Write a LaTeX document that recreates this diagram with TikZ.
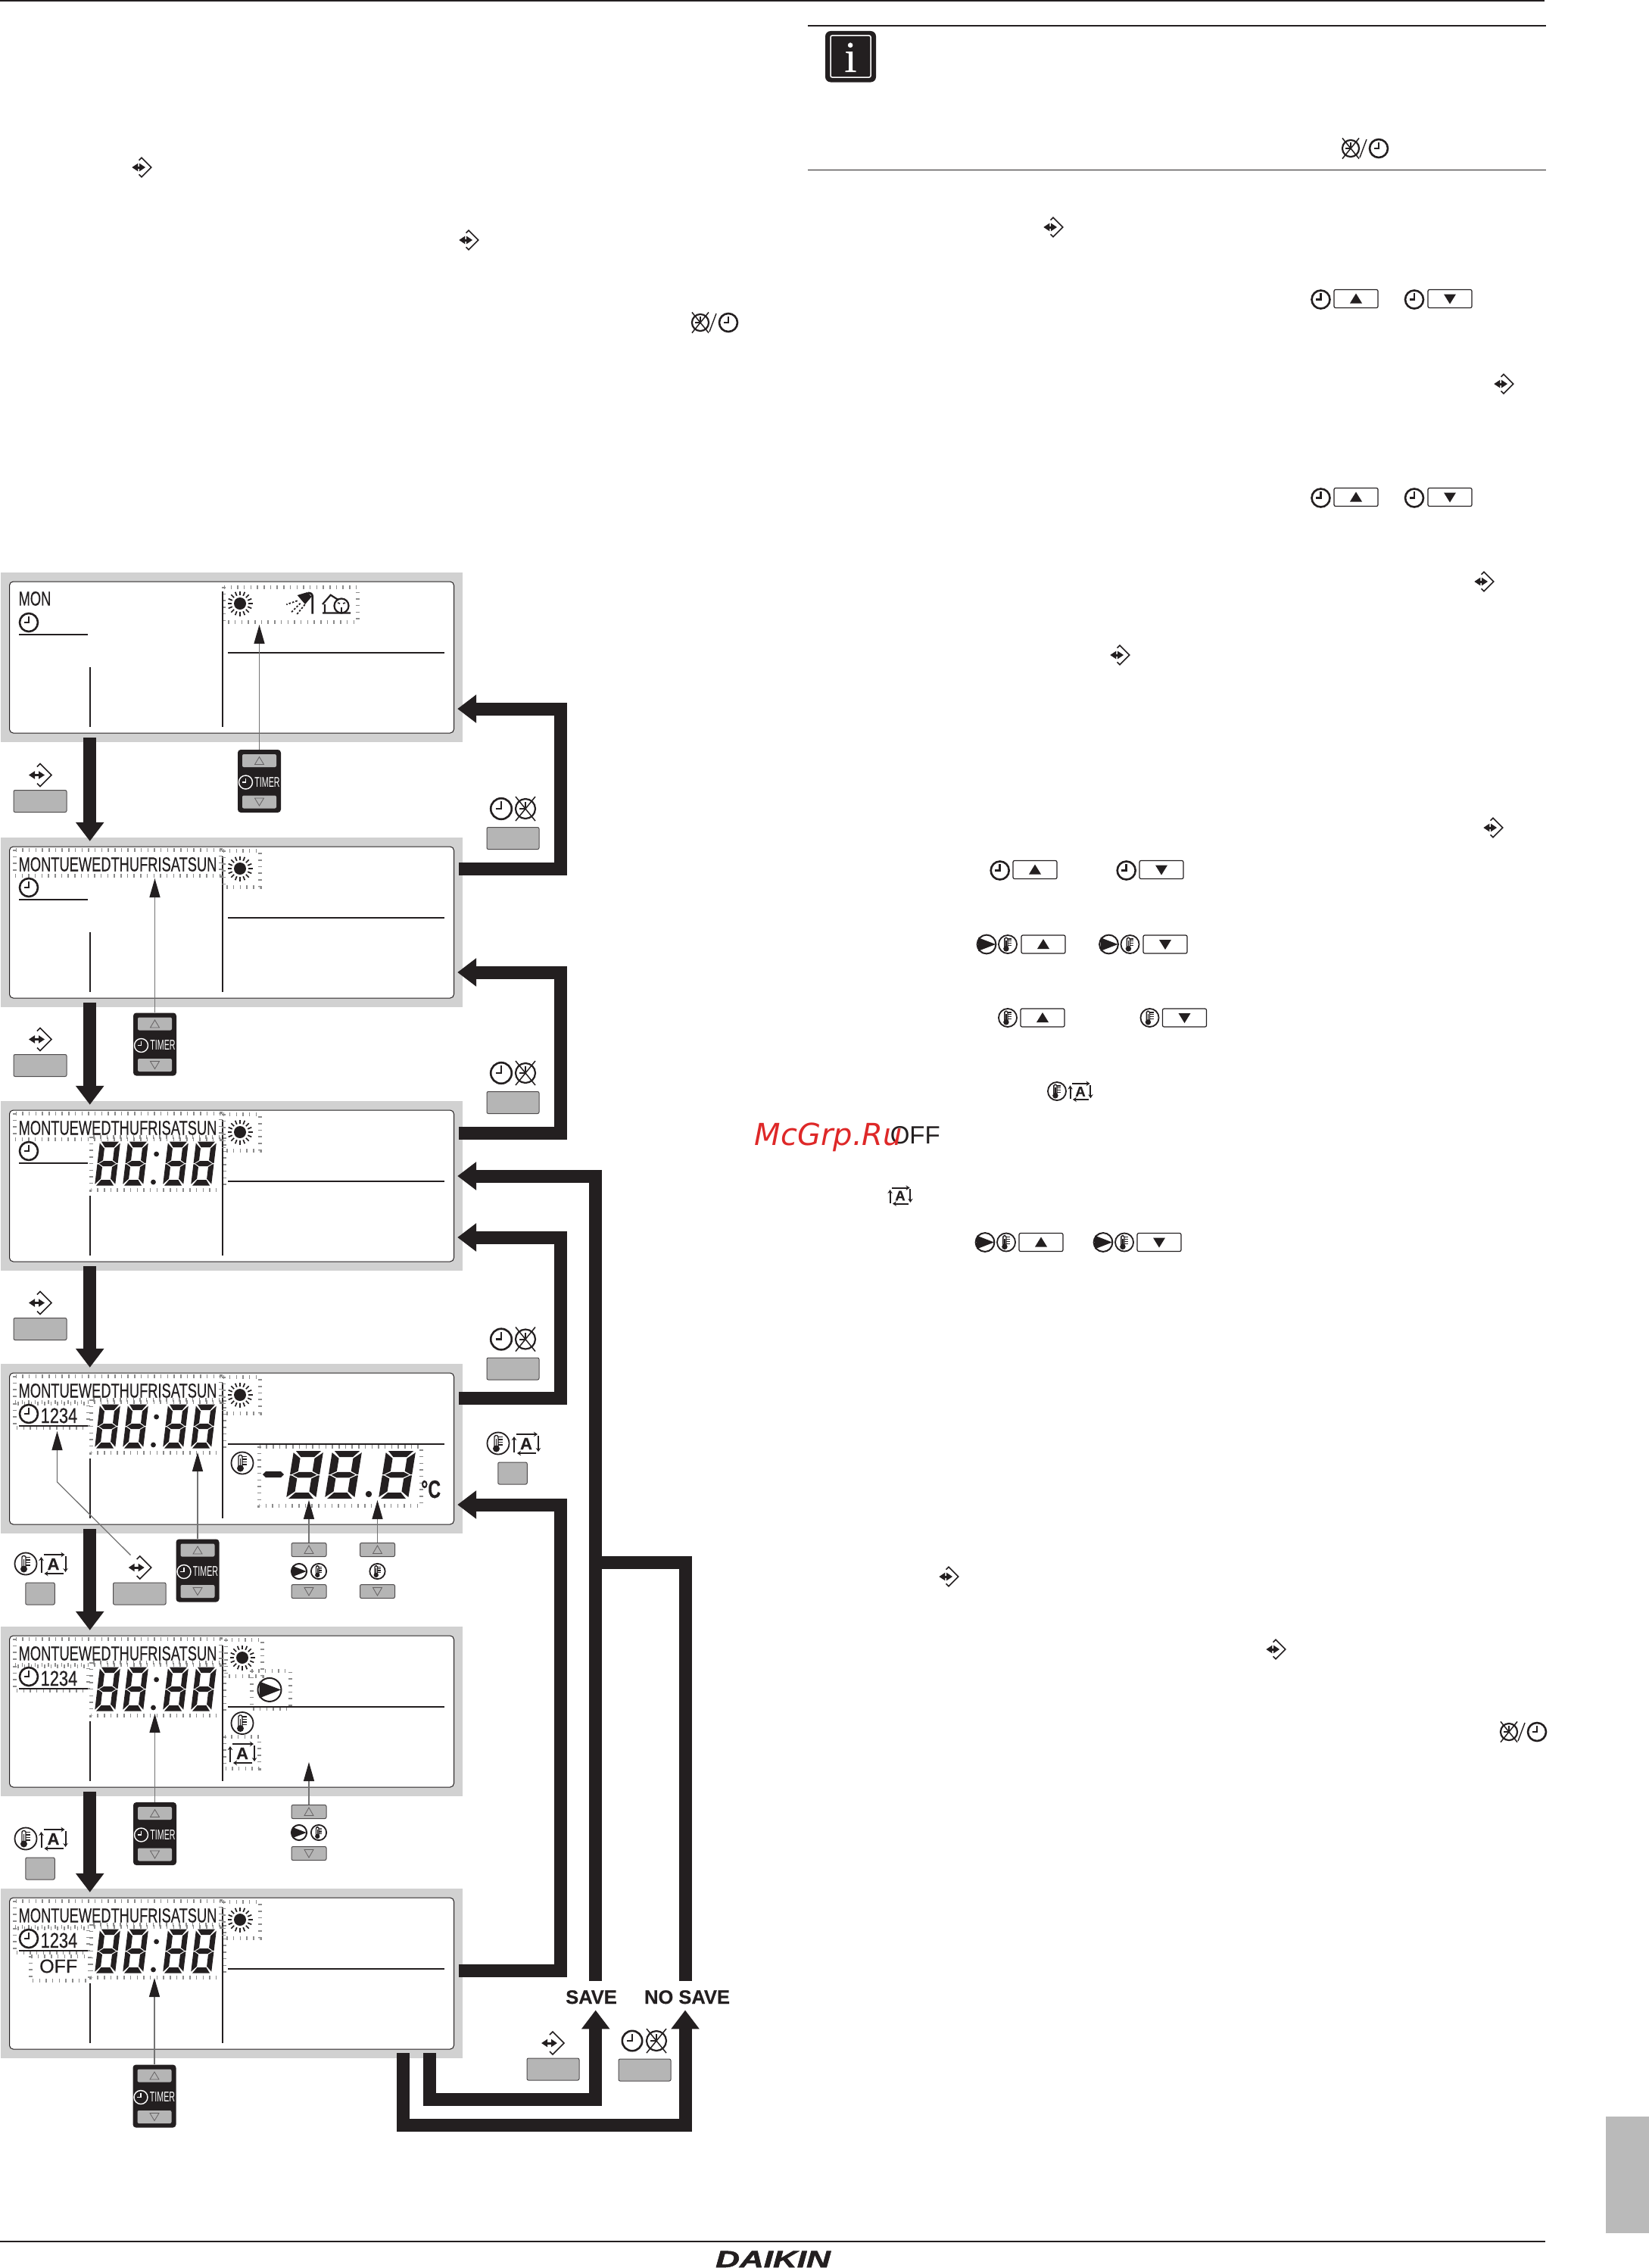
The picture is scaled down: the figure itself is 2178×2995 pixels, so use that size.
\documentclass[tikz,border=0pt]{standalone}
\usepackage{fontspec}
\setmainfont{Liberation Sans}
\newfontfamily\markfont{DejaVu Sans}
\newfontfamily\infofont[FakeBold=.6]{Liberation Serif}
\newfontfamily\lcdfont[FakeBold=.5]{Liberation Sans}
\newfontfamily\logofont[BoldItalicFeatures={FakeBold=1.6}]{Liberation Sans}
\newfontfamily\wordfont[BoldFeatures={FakeBold=.4}]{Liberation Sans}
\usetikzlibrary{arrows.meta}
\definecolor{ink}{HTML}{231F20}
\definecolor{panelgray}{HTML}{D1D1D1}
\definecolor{keygray}{HTML}{B5B5B5}
\definecolor{tabgray}{HTML}{BABABA}
\newcommand{\pxfont}[1]{\fontsize{#1}{#1}\selectfont}

\begin{document}
\begin{tikzpicture}[x=1pt, y=-1pt, color=ink,
  frame/.style={shape=rectangle, fill=panelgray, inner sep=0pt, minimum width=610pt, minimum height=224pt},
  lcd/.style={shape=rectangle, fill=white, draw=ink, line width=1pt, rounded corners=5pt, inner sep=0pt, minimum width=587pt, minimum height=200pt},
  keybtn/.style={shape=rectangle, fill=keygray, draw=ink!80, line width=1pt, rounded corners=2pt, inner sep=0pt},
  timerbox/.style={shape=rectangle, fill=ink, rounded corners=4pt, inner sep=0pt, minimum width=57pt, minimum height=83pt},
  smallkey/.style={keybtn, minimum width=46pt, minimum height=18pt},
  keyglyph/.style={draw=ink!70, line width=.8pt},
  heavy/.style={draw=ink, line width=17pt, -{Triangle[width=36pt,length=25pt,color=ink]}},
  rail/.style={draw=ink, line width=17pt},
  pointer/.style={draw=black!55, line width=1.3pt, -{Triangle[width=14pt,length=25pt,color=ink,fill=ink]}},
  flash/.style={draw=black!45, line width=5pt, dash pattern=on 1.5pt off 7.2pt},
  lcdline/.style={draw=ink, line width=1.8pt},
  daytext/.style={font=\lcdfont\pxfont{26.5}, xscale=.69, inner sep=0pt, anchor=base west},
  saveword/.style={font=\wordfont\bfseries\pxfont{25.5}, inner sep=0pt, anchor=base},
  clock/.pic={
    \draw[line width=2.6pt] (0,0) circle[radius=12];
    \draw[line width=2.6pt] (-6.5,0) -- (0,0) -- (0,-8.5);
  },
  xclock/.pic={
    \draw[line width=2.2pt] (0,0) circle[radius=13];
    \draw[line width=1.5pt] (-13,-16) -- (13,16) (13,-16) -- (-13,16);
    \draw[line width=2pt] (-8,0) -- (0,0) -- (0,-9);
  },
  enter/.pic={
    \draw[line width=1.6pt] (-4,-11) -- (0,-15) -- (15,0) -- (0,15) -- (-4,11);
    \draw[line width=3pt, {Triangle[width=10pt,length=8pt]}-{Triangle[width=10pt,length=8pt]}] (-15,0) -- (6,0);
  },
  therm/.pic={
    \draw[line width=1.8pt] (0,0) circle[radius=14.5];
    \draw[line width=1.4pt, rounded corners=1.5pt] (-5,-10.5) rectangle (0,5);
    \fill (-2.5,7) circle[radius=4.5];
    \fill (-3.4,-6) rectangle (-1.6,5);
    \foreach \t in {-8.5,-5,-1.5,2} \draw[line width=1.1pt] (0,\t) -- (6,\t);
  },
  aicon/.pic={
    \draw[line width=2pt, -{Stealth[length=5pt,width=6.5pt]}] (-13,-12) -- (15,-12);
    \draw[line width=2pt, -{Stealth[length=5pt,width=6.5pt]}] (16,-10) -- (16,11);
    \draw[line width=2pt, -{Stealth[length=5pt,width=6.5pt]}] (13,13) -- (-12,13);
    \draw[line width=2pt, -{Stealth[length=5pt,width=6.5pt]}] (-16,12) -- (-16,-9);
    \node (-glyph) [font=\wordfont\bfseries\pxfont{22}, inner sep=0pt, transform shape] at (0,.5) {A};
  },
  pump/.pic={
    \draw[line width=2pt] (0,0) circle[radius=15.5];
    \fill (-13.5,-11) -- (15,0) -- (-13.5,11) -- cycle;
  },
  sun/.pic={
    \fill (0,0) circle[radius=8];
    \foreach \a in {0,22.5,...,337.5} \draw[line width=1.7pt] (\a:11) -- (\a:16.5);
  },
  shower/.pic={
    \draw[line width=2.8pt] (15.7,14.7) -- (15.7,-8) .. controls (15.7,-12) and (13,-13) .. (9.7,-13);
    \fill (-4.3,-10) -- (9,-14) -- (14.5,-8) -- (6,2) -- cycle;
    \draw[line width=1.8pt, dash pattern=on 2.6pt off 2pt] (-4.3,-2.7) -- (-18.7,2.3) (-.3,.7) -- (-12,12.3) (5.7,2.3) -- (-5.3,15.7);
  },
  house/.pic={
    \draw[line width=2.2pt] (-19,1) -- (-8.3,-11.3) -- (3,-4) (-16,1) -- (-16,12) (-19,12.5) -- (18,12.5);
    \draw[line width=2.2pt, fill=white] (6,3) circle[radius=9.5];
    \draw[line width=1.6pt] (6,5) -- (6,12) (1,-1) -- (4,0) (8,0) -- (11,-1);
  },
  eight/.pic={
    \begin{scope}[xslant=.12]
      \fill (2,0) -- (25,0) -- (19.5,7.5) -- (7.5,7.5) -- cycle
            (2,58) -- (25,58) -- (19.5,50.5) -- (7.5,50.5) -- cycle
            (2.5,29) -- (8,25.5) -- (19,25.5) -- (24.5,29) -- (19,32.5) -- (8,32.5) -- cycle
            (0,2) -- (7,9) -- (7,24.5) -- (1.5,28.3) -- (0,28.3) -- cycle
            (0,29.7) -- (1.5,29.7) -- (7,33.5) -- (7,49) -- (0,56) -- cycle
            (27,2) -- (20,9) -- (20,24.5) -- (25.5,28.3) -- (27,28.3) -- cycle
            (27,29.7) -- (25.5,29.7) -- (20,33.5) -- (20,49) -- (27,56) -- cycle;
    \end{scope}
  },
  timedigits/.pic={
    \draw[flash] (120,47) rectangle (296,117);
    \foreach \dx in {132,169,222,259} \pic at (\dx,53.6) {eight};
    \fill (206.6,70) circle[radius=3.4] (202.5,107) circle[radius=3.4];
  },
  daysrow/.pic={
    \draw[flash] (19,16) rectangle (291,50);
    \node (-days) [daytext] at (24.5,44.5) {MONTUEWEDTHUFRISATSUN};
    \pic at (38,66) {clock};
  },
  sunspot/.pic={
    \draw[flash] (295,17) rectangle (343,65);
    \pic at (317,41) {sun};
  },
  countrow/.pic={
    \draw[flash] (19,52) rectangle (116,84);
    \node (-count) [font=\lcdfont\pxfont{28}, xscale=.78, inner sep=0pt, anchor=base west] at (53.5,78) {1234};
  },
  lcdlines/.pic={
    \draw[lcdline] (25,82) -- (116,82) (301,105.6) -- (587,105.6);
    \draw[lcdline] (119,125) -- (119,204) (294,24.5) -- (294,204);
  },
  timer/.pic={
    \node (-box) [timerbox] at (0,0) {};
    \node (-up) [keybtn, draw=none, minimum width=45pt, minimum height=17pt] at (0,-27) {};
    \node (-down) [keybtn, draw=none, minimum width=45pt, minimum height=17pt] at (0,27.5) {};
    \draw[keyglyph] (0,-32) -- (6,-22) -- (-6,-22) -- cycle (0,32.5) -- (6,22.5) -- (-6,22.5) -- cycle;
    \draw[white, line width=1.4pt] (-18,1.5) circle[radius=9];
    \draw[white, line width=1.5pt] (-23,1.5) -- (-18,1.5) -- (-18,-4);
    \node (-word) [text=white, font=\pxfont{18.7}, xscale=.57, inner sep=0pt] at (10.5,1.5) {TIMER};
  },
  updown/.pic={
    \node (-up) [smallkey] at (0,-27.5) {};
    \node (-down) [smallkey] at (0,27.5) {};
    \draw[keyglyph] (0,-33) -- (6,-22.5) -- (-6,-22.5) -- cycle (0,33) -- (6,22.5) -- (-6,22.5) -- cycle;
  },
  upkey/.pic={
    \draw[line width=1.2pt, rounded corners=2pt] (-29,-12) rectangle (29,12);
    \fill (0,-7) -- (8,6) -- (-8,6) -- cycle;
  },
  downkey/.pic={
    \draw[line width=1.2pt, rounded corners=2pt] (-29,-12) rectangle (29,12);
    \fill (0,7) -- (8,-6) -- (-8,-6) -- cycle;
  }]
    \useasboundingbox (0,0) rectangle (2178,2995);

    % page rules and tab
    \draw[line width=3pt] (0,1) -- (2040,1);
    \draw[line width=1.2pt] (1067,34) -- (2042,34);
    \draw[line width=1pt] (1067,224.5) -- (2042,224.5);
    \draw[line width=1.5pt] (0,2960) -- (2041,2960);
    \fill[tabgray] (2121,2795) rectangle (2178,2949);
    \node (brand) [font=\logofont\bfseries\itshape\pxfont{31}, xscale=1.42, inner sep=0pt, anchor=base] at (1021,2994) {DAIKIN};

    % info sign
    \fill[rounded corners=7pt] (1090,41) rectangle (1157,108.5);
    \draw[white, line width=1.5pt, rounded corners=2pt] (1097,47) rectangle (1150,102);
    \node (infoMark) [text=white, font=\infofont\pxfont{58}, inner sep=0pt, anchor=base] at (1123.5,95) {i};

    % symbols of the text columns
    \foreach \ex/\ey in {187/221,619/317,1391/300,1986/507,1960/768,1479/865,1972/1093,1253/2082,1685/2178}
      \pic[scale=.85] at (\ex,\ey) {enter};
    \foreach \ex/\ey in {925/426,1784/196,1993/2287} {
      \pic[scale=.85] at (\ex,\ey) {xclock};
      \draw[line width=1.4pt] (\ex+12,\ey+12) -- (\ex+21,\ey-12);
      \pic at (\ex+37,\ey) {clock};
    }
    \foreach \kx/\ky/\cx in {1791/394.5/1744.5,1791/656.5/1744.5,1367/1148.5/1320.7} {
      \pic at (\kx,\ky) {upkey};
      \pic at (\cx,\ky+1) {clock};
    }
    \foreach \kx/\ky/\cx in {1915/394.5/1868,1915/656.5/1868,1534/1148.5/1487.7} {
      \pic at (\kx,\ky) {downkey};
      \pic at (\cx,\ky+1) {clock};
    }
    \foreach \kx/\ky/\px in {1378/1247/1303,1375/1640.5/1301} {
      \pic at (\kx,\ky) {upkey};
      \pic[scale=.8] at (\px,\ky) {pump};
      \pic[scale=.83] at (\px+28,\ky) {therm};
    }
    \foreach \kx/\ky/\px in {1539/1247/1464.5,1531/1640.5/1457} {
      \pic at (\kx,\ky) {downkey};
      \pic[scale=.8] at (\px,\ky) {pump};
      \pic[scale=.83] at (\px+28,\ky) {therm};
    }
    \pic at (1377,1344) {upkey};
    \pic[scale=.83] at (1331,1344) {therm};
    \pic at (1564.5,1344) {downkey};
    \pic[scale=.83] at (1518.5,1344) {therm};
    \pic[scale=.83] at (1396,1441) {therm};
    \pic[scale=.84] at (1427,1441) {aicon};
    \pic[scale=.84] at (1189,1578.6) {aicon};
    \node (offWord) [font=\pxfont{33}, inner sep=0pt, anchor=base west] at (1175.6,1510.6) {OFF};
    \node (stamp) [text={rgb,255:red,222;green,40;blue,40}, font=\markfont\itshape\pxfont{40}, inner sep=0pt, anchor=base west] at (996.6,1512) {McGrp.Ru};

    % panels
    \foreach \pname/\ptop in {A/756,B/1106,C/1454,D/1801,E/2148,F/2494} {
      \node (frame\pname) [frame] at (306,\ptop+112) {};
      \node (lcd\pname) [lcd] at (frame\pname.center) {};
    }

    \begin{scope}[shift={(0,756)}]
      \draw[flash] (295,19) rectangle (472,65);
      \pic at (0,0) {lcdlines};
      \node (monA) [daytext] at (24.5,43.6) {MON};
      \pic at (38,66) {clock};
      \pic at (317,41) {sun};
      \pic at (397,40) {shower};
      \pic at (445,41) {house};
    \end{scope}
    \begin{scope}[shift={(0,1106)}]
      \pic at (0,0) {lcdlines};
      \pic at (0,0) {daysrow};
      \pic at (0,0) {sunspot};
    \end{scope}
    \begin{scope}[shift={(0,1454)}]
      \pic at (0,0) {timedigits};
      \pic at (0,0) {lcdlines};
      \pic at (0,0) {daysrow};
      \pic at (0,0) {sunspot};
    \end{scope}
    \begin{scope}[shift={(0,1801)}]
      \pic at (0,0) {timedigits};
      \pic at (0,0) {countrow};
      \pic at (0,0) {lcdlines};
      \pic at (0,0) {daysrow};
      \pic at (0,0) {sunspot};
      \pic at (320,131) {therm};
      \draw[flash] (342,109) rectangle (556,187.5);
      \fill (347,146) -- (351,142) -- (371,142) -- (375,146) -- (371,150) -- (351,150) -- cycle;
      \foreach \dx in {388,439,510} \pic[xscale=1.45, yscale=1.09] at (\dx,115) {eight};
      \fill (487,172) circle[radius=4.2];
      \node (unitD) [font=\wordfont\bfseries\pxfont{33}, xscale=.7, inner sep=0pt, anchor=base west] at (556,177) {°C};
    \end{scope}
    \begin{scope}[shift={(0,2148)}]
      \pic at (0,0) {timedigits};
      \pic at (0,0) {countrow};
      \draw[flash] (332,58) rectangle (383,108);
      \draw[flash] (296,145) rectangle (342,187);
      \pic at (0,0) {lcdlines};
      \pic at (0,0) {daysrow};
      \pic at (3,0) {sunspot};
      \pic at (356,83.4) {pump};
      \pic at (320,127.5) {therm};
      \pic at (320,167) {aicon};
    \end{scope}
    \begin{scope}[shift={(0,2494)}]
      \pic at (0,0) {timedigits};
      \pic at (0,0) {countrow};
      \draw[flash] (40,89) rectangle (118,121);
      \pic at (0,0) {lcdlines};
      \pic at (0,0) {daysrow};
      \pic at (0,0) {sunspot};
      \node (offF) [font=\lcdfont\pxfont{25}, inner sep=0pt, anchor=base west] at (52,111) {OFF};
    \end{scope}

    % step arrows between the panels
    \foreach \pfrom/\pto in {A/B,B/C,C/D,D/E,E/F}
      \draw[heavy] ([shift={(-187.3pt,6pt)}]frame\pfrom.south) -- ([shift={(-187.3pt,-5pt)}]frame\pto.north);

    % arrows back to the previous panel
    \foreach \pfrom/\pto/\pout/\pback in {B/A/71/-68,C/B/70/-66,D/C/66.5/-68,F/D/4/-74} {
      \coordinate (rail\pto) at ([shift={(129.5pt,\pback pt)}]frame\pto.east);
      \draw[heavy] ([shift={(-5pt,\pout pt)}]frame\pfrom.east) -| (rail\pto) -- ([shift={(-7pt,\pback pt)}]frame\pto.east);
    }

    % save and no save
    \node (lblSave) [saveword] at (781,2646) {SAVE};
    \node (lblNoSave) [saveword] at (907.5,2646) {NO SAVE};
    \coordinate (joinSave) at (786.7,2063);
    \coordinate (turnSave) at (786.7,2772);
    \coordinate (turnNoSave) at (905,2806);
    \draw[heavy] ([shift={(5.7pt,12pt)}]lblSave.north) |- ([shift={(-7pt,13pt)}]frameC.east);
    \draw[rail] ([shift={(-2.5pt,12pt)}]lblNoSave.north) |- (joinSave);
    \draw[heavy] ([shift={(261.6pt,7pt)}]frameF.south) |- (turnSave) -- ([shift={(5.7pt,-8pt)}]lblSave.south);
    \draw[heavy] ([shift={(226pt,7pt)}]frameF.south) |- (turnNoSave) -- ([shift={(-2.5pt,-8pt)}]lblNoSave.south);

    % keys beside the panels
    \foreach \kname/\ky in {A/1058,B/1407,C/1755} {
      \node (keyEnter\kname) [keybtn, minimum width=70pt, minimum height=29pt] at (53,\ky) {};
      \pic at (53,\ky-34.5) {enter};
    }
    \foreach \kname/\ky in {A/1107,B/1456,C/1807.5} {
      \node (keyBack\kname) [keybtn, minimum width=69pt, minimum height=29pt] at (677.5,\ky) {};
      \pic[scale=1.15] at (662,\ky-39) {clock};
      \pic at (694,\ky-39) {xclock};
    }
    \node (keyModeD) [keybtn, minimum width=38.5pt, minimum height=29pt] at (677,1945.5) {};
    \pic at (658,1906) {therm};
    \pic at (695,1906) {aicon};
    \node (keyModeL) [keybtn, minimum width=38.5pt, minimum height=29pt] at (53,2104.5) {};
    \pic at (34,2065) {therm};
    \pic at (70.5,2065) {aicon};
    \node (keyEnterD) [keybtn, minimum width=69.5pt, minimum height=29pt] at (184.3,2104.5) {};
    \pic at (184.7,2070) {enter};
    \node (keyModeE) [keybtn, minimum width=38.5pt, minimum height=29pt] at (53,2467.5) {};
    \pic at (34,2428) {therm};
    \pic at (70.5,2428) {aicon};
    \node (keySave) [keybtn, minimum width=69pt, minimum height=29pt] at (730.5,2732.5) {};
    \pic at (730,2698) {enter};
    \node (keyNoSave) [keybtn, minimum width=69pt, minimum height=29pt] at (851.5,2733.5) {};
    \pic[scale=1.1] at (835,2695) {clock};
    \pic at (867,2695) {xclock};

    % timers, button pairs and what they point at
    \pic (timerA) at (342.5,1031.5) {timer};
    \pic (timerB) at (204.5,1379) {timer};
    \pic (timerD) at (261,2074) {timer};
    \pic (timerE) at (204.5,2421.5) {timer};
    \pic (timerF) at (204,2768) {timer};
    \pic (pairDa) at (408,2074) {updown};
    \pic (pairDb) at (498.5,2074) {updown};
    \pic (pairE) at (408,2420) {updown};
    \pic[scale=.65] at (395,2075) {pump};
    \pic[scale=.7] at (421,2075) {therm};
    \pic[scale=.7] at (498.5,2075) {therm};
    \pic[scale=.65] at (395,2420) {pump};
    \pic[scale=.7] at (421,2420) {therm};

    \coordinate (tipA) at (342.5,825);
    \coordinate (tipB) at (204.5,1160);
    \coordinate (tipDt) at (261,1918);
    \coordinate (tipDa) at (408,1981);
    \coordinate (tipDb) at (498.5,1981);
    \coordinate (tipE) at (204.5,2263);
    \coordinate (tipEa) at (408,2327);
    \coordinate (tipF) at (204,2612);
    \coordinate (startCount) at (172.5,2053.6);
    \coordinate (bendCount) at (75.5,1957);
    \coordinate (tipCount) at (75.5,1890);
    \draw[pointer] (timerA-box.north) -- (tipA);
    \draw[pointer] (timerB-box.north) -- (tipB);
    \draw[pointer] (timerD-box.north) -- (tipDt);
    \draw[pointer] (timerE-box.north) -- (tipE);
    \draw[pointer] (timerF-box.north) -- (tipF);
    \draw[pointer] (pairDa-up.north) -- (tipDa);
    \draw[pointer] (pairDb-up.north) -- (tipDb);
    \draw[pointer] (pairE-up.north) -- (tipEa);
    \draw[pointer] (startCount) -- (bendCount) -- (tipCount);
\end{tikzpicture}
\end{document}
